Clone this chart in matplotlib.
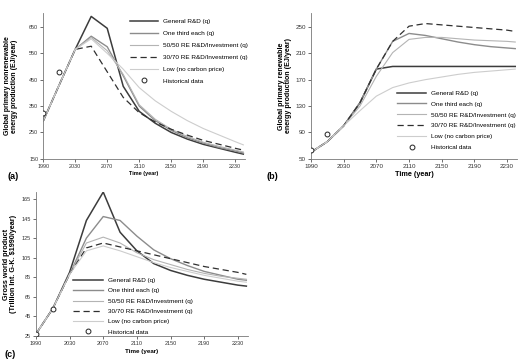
import matplotlib
matplotlib.use("Agg")
import matplotlib.pyplot as plt

plt.rcParams["font.family"] = ["Liberation Sans", "DejaVu Sans"]

# Data
years = [1990, 2010, 2030, 2050, 2070, 2090, 2110, 2130, 2150, 2170, 2190, 2210, 2230, 2240]
hist_years = [1990, 2010]

series_names = ["General R&D (q)", "One third each (q)", "50/50 RE R&D/Investment (q)",
                "30/70 RE R&D/Investment (q)", "Low (no carbon price)"]

# (a) nonrenewable energy production (EJ/year)
a_general = [293, 430, 565, 690, 645, 425, 330, 285, 250, 225, 205, 190, 175, 168]
a_third = [293, 430, 565, 615, 575, 465, 350, 295, 258, 230, 210, 193, 180, 172]
a_5050 = [293, 430, 565, 610, 560, 470, 355, 300, 262, 235, 213, 197, 183, 176]
a_3070 = [293, 430, 565, 577, 480, 383, 325, 290, 262, 240, 220, 205, 190, 183]
a_low = [293, 430, 565, 605, 550, 490, 420, 370, 330, 295, 265, 240, 215, 203]
a_hist = [322, 481]

# (b) renewable energy production (EJ/year)
b_general = [60, 76, 100, 135, 186, 190, 190, 190, 190, 190, 190, 190, 190, 190]
b_third = [60, 76, 100, 135, 186, 228, 240, 237, 232, 227, 223, 220, 218, 217]
b_5050 = [60, 76, 100, 130, 175, 211, 231, 234, 234, 232, 230, 229, 228, 227]
b_3070 = [60, 76, 100, 135, 186, 228, 251, 255, 253, 251, 249, 247, 245, 243]
b_low = [60, 76, 100, 123, 145, 158, 165, 170, 174, 178, 181, 183, 185, 186]
b_hist = [64, 88]

# (c) gross world product (Trillion Int. G-K. $1990/year)
c_general = [27, 53, 90, 143, 172, 131, 112, 99, 92, 87, 83, 80, 77, 76]
c_third = [27, 53, 88, 125, 147, 143, 127, 113, 104, 97, 91, 87, 83, 82]
c_5050 = [27, 53, 88, 120, 126, 120, 110, 103, 98, 93, 89, 86, 84, 83]
c_3070 = [27, 53, 88, 115, 120, 116, 112, 108, 104, 100, 96, 93, 90, 88]
c_low = [27, 53, 88, 112, 117, 112, 106, 100, 95, 91, 87, 84, 81, 80]
c_hist = [27, 53]

styles = [
    dict(color="#3c3c3c", lw=1.1, ls="-"),
    dict(color="#8c8c8c", lw=1.0, ls="-"),
    dict(color="#b4b4b4", lw=0.8, ls="-"),
    dict(color="#303030", lw=0.9, ls=(0, (5, 3))),
    dict(color="#cdcdcd", lw=0.8, ls="-"),
]

fig = plt.figure(figsize=(5.2, 3.61), dpi=100)


def draw(rect, data, hist, ylim, yticks, ylabel, ylab_x, fs, leg_anchor, leg_spacing, hl):
    tick_fs, xlab_fs, ylab_fs = fs
    ax = fig.add_axes(rect)
    for vals, name, st in zip(data, series_names, styles):
        ax.plot(years, vals, label=name, **st)
    ax.plot(hist_years, hist, "o", mfc="white", mec="#222222", ms=3.5, mew=0.7,
            label="Historical data", zorder=5)
    ax.set_xlim(1990, 2242)
    ax.set_ylim(*ylim)
    ax.set_xticks(range(1990, 2231, 40))
    ax.set_yticks(yticks)
    ax.tick_params(labelsize=tick_fs, length=2, width=0.5, pad=1.5, colors="#333333")
    for s in ["top", "right"]:
        ax.spines[s].set_visible(False)
    for s in ["left", "bottom"]:
        ax.spines[s].set_linewidth(0.6)
        ax.spines[s].set_color("#777777")
    ax.set_xlabel("Time (year)", fontsize=xlab_fs, fontweight="bold", labelpad=2)
    ax.set_ylabel(ylabel, fontsize=ylab_fs, fontweight="bold", linespacing=1.0)
    ax.yaxis.set_label_coords(ylab_x, 0.5)
    ax.legend(loc="upper left", bbox_to_anchor=leg_anchor, frameon=False, fontsize=4.6,
              handlelength=hl, handletextpad=0.8, labelspacing=leg_spacing,
              borderaxespad=0, borderpad=0)
    return ax


draw([0.083, 0.560, 0.388, 0.404], [a_general, a_third, a_5050, a_3070, a_low], a_hist,
     (150, 703), range(150, 651, 100),
     "Global primary nonrenewable\nenergy production (EJ/year)", -0.124, (3.9, 4.0, 5.0),
     (0.43, 0.96), 1.0, 4.4)
draw([0.598, 0.560, 0.396, 0.404], [b_general, b_third, b_5050, b_3070, b_low], b_hist,
     (50, 271), range(50, 251, 40),
     "Global primary renewable\nenergy production (EJ/year)", -0.092, (4.5, 5.2, 5.1),
     (0.42, 0.47), 0.85, 4.5)
draw([0.069, 0.069, 0.408, 0.399], [c_general, c_third, c_5050, c_3070, c_low], c_hist,
     (25, 172), range(25, 166, 20),
     "Gross world product\n(Trillion Int. G-K. \\$1990/year)", -0.09, (4.0, 4.5, 5.2),
     (0.175, 0.405), 0.75, 4.7)

fig.text(0.014, 0.505, "(a)", fontsize=6.5, fontweight="bold")
fig.text(0.512, 0.505, "(b)", fontsize=6.5, fontweight="bold")
fig.text(0.008, 0.01, "(c)", fontsize=6.5, fontweight="bold")

fig.savefig("out.png", dpi=100)
